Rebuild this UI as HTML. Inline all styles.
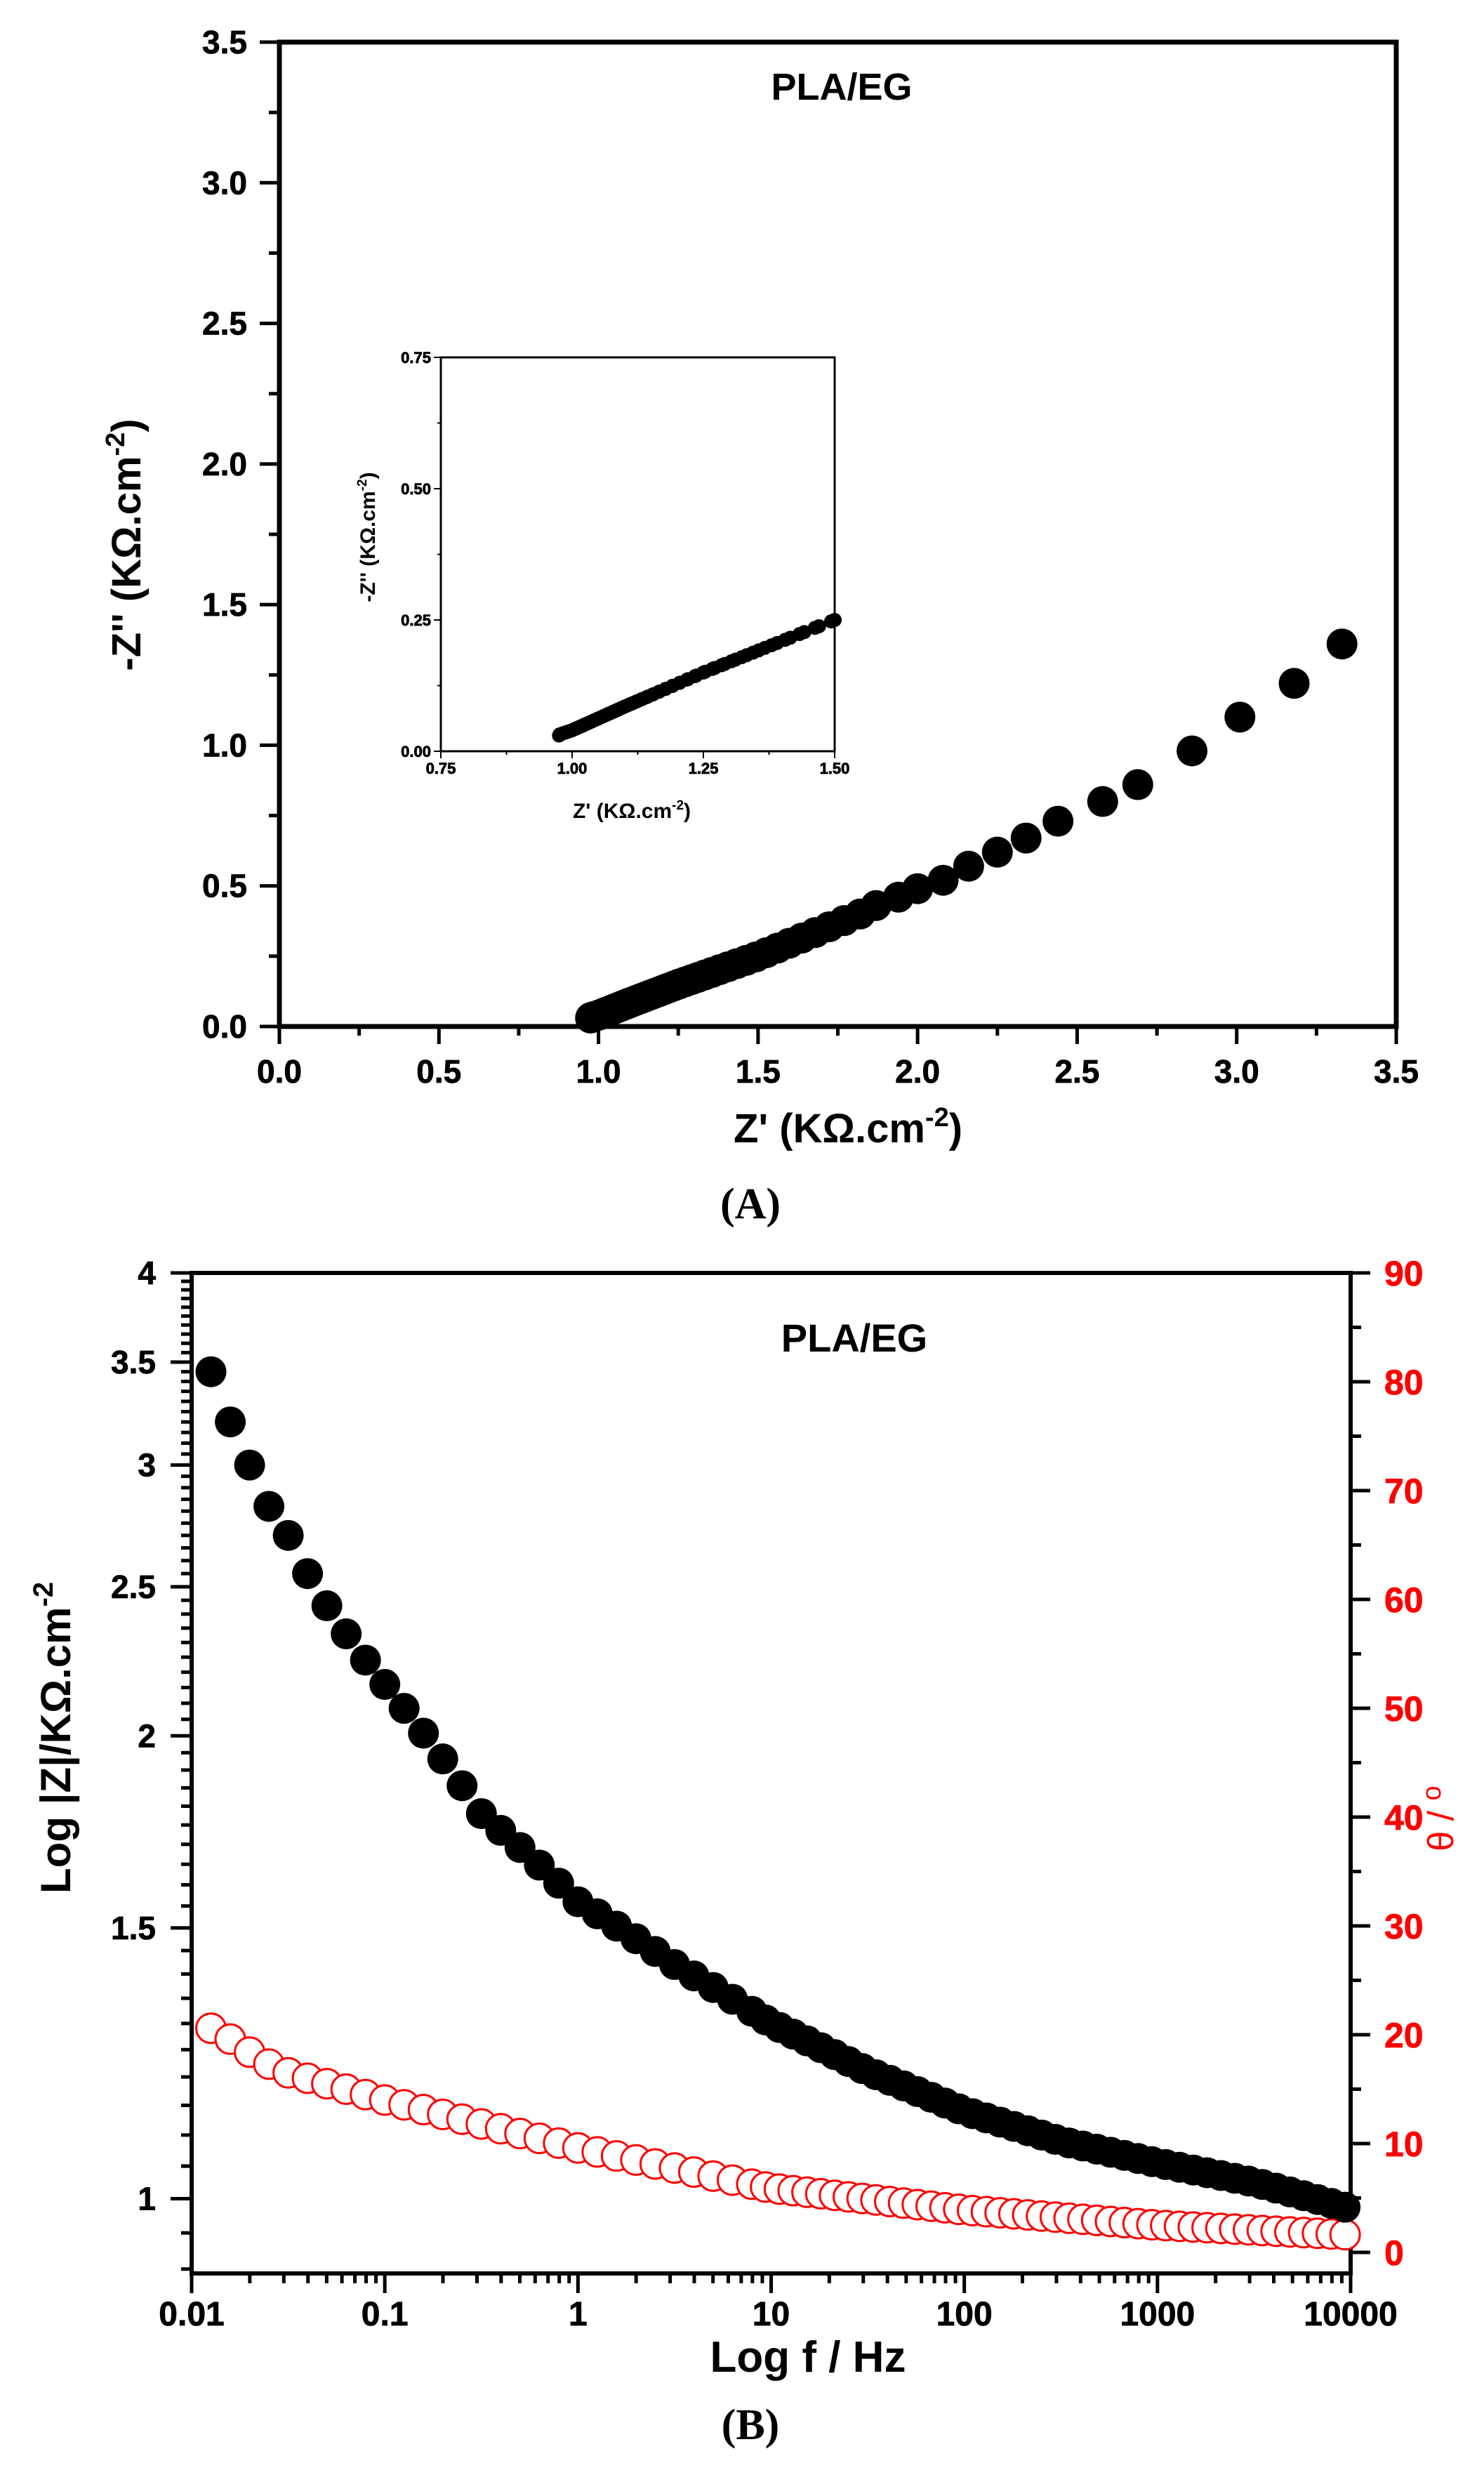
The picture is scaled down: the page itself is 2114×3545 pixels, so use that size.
<!DOCTYPE html>
<html><head><meta charset="utf-8">
<style>
html,body{margin:0;padding:0;background:#fff;}
svg{display:block;}
text{font-family:"Liberation Sans",Arial,sans-serif;font-weight:bold;}
</style></head>
<body>
<svg id="s" width="2114" height="3545" viewBox="0 0 2114 3545" xmlns="http://www.w3.org/2000/svg">
<rect width="2114" height="3545" fill="#fff"/>
<g id="g"></g>
<text x="1199" y="142" font-size="54" text-anchor="middle">PLA/EG</text>
<text x="1208" y="1627" font-size="58" text-anchor="middle">Z' (KΩ.cm<tspan dy="-23" font-size="38">-2</tspan><tspan dy="23">)</tspan></text>
<text transform="translate(200,776) rotate(-90)" font-size="58" text-anchor="middle">-Z'' (KΩ.cm<tspan dy="-23" font-size="38">-2</tspan><tspan dy="23">)</tspan></text>
<text x="1069" y="1735" font-size="62" text-anchor="middle" style="font-family:'Liberation Serif',serif">(A)</text>
<text x="900" y="1165" font-size="30" text-anchor="middle">Z' (KΩ.cm<tspan dy="-12" font-size="19">-2</tspan><tspan dy="12">)</tspan></text>
<text transform="translate(534,765) rotate(-90)" font-size="30" text-anchor="middle">-Z'' (KΩ.cm<tspan dy="-12" font-size="19">-2</tspan><tspan dy="12">)</tspan></text>
<text x="1217" y="1925" font-size="56" text-anchor="middle">PLA/EG</text>
<text x="1151" y="3378" font-size="62" text-anchor="middle">Log f / Hz</text>
<text transform="translate(100,2475) rotate(-90)" font-size="60" text-anchor="middle">Log |Z|/KΩ.cm<tspan dy="-25" font-size="40">-2</tspan></text>
<text transform="translate(2070,2590) rotate(-90)" font-size="52" text-anchor="middle" fill="#f00" style="font-weight:normal">θ / <tspan dy="-18" font-size="38">o</tspan></text>
<text x="1069" y="3474" font-size="62" text-anchor="middle" style="font-family:'Liberation Serif',serif">(B)</text>
</svg>
<script>
var g=document.getElementById('g');var NS='http://www.w3.org/2000/svg';
function el(t,a,txt){var e=document.createElementNS(NS,t);for(var k in a)e.setAttribute(k,a[k]);if(txt!==undefined)e.textContent=txt;g.appendChild(e);return e;}
function line(x1,y1,x2,y2,w,c){el('line',{x1:x1,y1:y1,x2:x2,y2:y2,stroke:c||'#000','stroke-width':w});}
function txt(x,y,s,sz,anc,fill){var e=el('text',{x:x,y:y,'font-size':sz,'text-anchor':anc||'middle',fill:fill||'#000'},s);e.setAttribute('stroke',fill||'#000');e.setAttribute('stroke-width','0.8');return e;}
function interp(pts,x){if(x<=pts[0][0])return pts[0][1];for(var i=1;i<pts.length;i++){if(x<=pts[i][0]){var a=pts[i-1],b=pts[i];return a[1]+(b[1]-a[1])*(x-a[0])/(b[0]-a[0]);}}return pts[pts.length-1][1];}

var AX0=398,AX1=1989,AY0=1462,AY1=60;
function ax(v){return AX0+(AX1-AX0)*v/3.5;}function ay(v){return AY0-(AY0-AY1)*v/3.5;}
for(var i=0;i<=14;i++){var v=i*0.25;var maj=i%2==0;
 line(ax(v),AY0,ax(v),AY0+(maj?25:13),5);
 line(AX0,ay(v),AX0-(maj?28:15),ay(v),5);
 if(maj){txt(ax(v),1542,v.toFixed(1),46);txt(352,ay(v)+16,v.toFixed(1),46,'end');}
}
el('rect',{x:AX0,y:AY1,width:AX1-AX0,height:AY0-AY1,fill:'none',stroke:'#000','stroke-width':7});
var big=[[3.33,1.36],[3.18,1.22],[3.01,1.10],[2.86,0.98],[2.69,0.86],[2.58,0.80],[2.44,0.73],[2.34,0.67],[2.25,0.62],[2.16,0.57],[2.08,0.52],[2.00,0.49],[1.94,0.46],[1.87,0.43]];
var curve=[[0.97,0.03],[1.0,0.04],[1.1,0.085],[1.25,0.15],[1.5,0.25],[1.82,0.40],[1.87,0.43]];
var pts=big.slice();var z=1.82;
while(z>0.975){pts.push([z,interp(curve,z)]);z-=Math.max(0.006,0.058*(z-0.96));}
pts.push([0.975,0.03]);
pts.forEach(function(p){el('circle',{cx:ax(p[0]),cy:ay(p[1]),r:22,fill:'#000'});});
var IX0=628,IX1=1189,IY0=1070,IY1=509;
el('rect',{x:IX0,y:IY1,width:IX1-IX0,height:IY0-IY1,fill:'#fff',stroke:'none'});
function ix(v){return IX0+(IX1-IX0)*(v-0.75)/0.75;}function iy(v){return IY0-(IY0-IY1)*v/0.75;}
for(var i=0;i<=6;i++){var v=i*0.125;var maj=i%2==0;
 line(IX0,iy(v),IX0-(maj?10:5),iy(v),2);
 line(ix(0.75+v),IY0,ix(0.75+v),IY0+(maj?10:5),2);
 if(maj){txt(IX0-14,iy(v)+8,v.toFixed(2),22,'end');txt(ix(0.75+v),1102,(0.75+v).toFixed(2),22);}
}
var sv=[];pts.forEach(function(p){if(p[0]<=1.51)sv.push(p);});
var z2=1.5;while(z2>0.98){sv.push([z2,interp(curve,z2)]);z2-=Math.max(0.004,0.055*(z2-0.96));}
sv.forEach(function(p){el('circle',{cx:ix(p[0]),cy:iy(p[1]),r:10,fill:'#000'});});
el('rect',{x:IX0,y:IY1,width:IX1-IX0,height:IY0-IY1,fill:'none',stroke:'#000','stroke-width':3});

var BX0=273,BX1=1924,BY0=3238,BY1=1813;
function bx(lf){return BX0+(BX1-BX0)*(lf+2)/6;}
function byZ(z){return 1813+(Math.log10(4)-Math.log10(z))*2190;}
function byT(t){return 3208-t*15.5;}
for(var i=0;i<=60;i++){var v=1+i*0.05;if(v>4.0001)break;var maj=(i%10==0);
 line(BX0,byZ(v),BX0-(maj?30:15),byZ(v),5);
 if(maj){var s=(Math.abs(v-Math.round(v))<1e-6)?String(Math.round(v)):v.toFixed(1);txt(222,byZ(v)+16,s,46,'end');}
}
for(var i=0;i<=3;i++){var v=0.9+0.05*i;if(byZ(v)<=BY0)line(BX0,byZ(v),BX0-15,byZ(v),5);}
for(var t=0;t<=90;t+=5){var maj=t%10==0;line(BX1,byT(t),BX1+(maj?28:15),byT(t),5);
 if(maj)txt(1972,byT(t)+18,String(t),50,'start','#f00');}
var xl=['0.01','0.1','1','10','100','1000','10000'];
for(var d=-2;d<=4;d++){line(bx(d),BY0,bx(d),BY0+28,5);txt(bx(d),3312,xl[d+2],48);
 if(d<4)for(var m=2;m<=9;m++){var xx=bx(d+Math.log10(m));line(xx,BY0,xx,BY0+14,5);}}
el('rect',{x:BX0,y:BY1,width:BX1-BX0,height:BY0-BY1,fill:'none',stroke:'#000','stroke-width':6});
var zA=[[-1.9,3.45],[-1.8,3.2],[-1.7,3.0],[-1.6,2.82],[-1.5,2.7],[-1.4,2.55],[-1.3,2.43],[-1.2,2.33],[-1.1,2.24],[-1,2.16],[-0.5,1.78],[0,1.56],[0.5,1.42],[1,1.30],[1.5,1.21],[2,1.14],[2.5,1.09],[3,1.055],[3.5,1.025],[4,0.985]];
var tA=[[-1.9,20.6],[-1.8,19.6],[-1.7,18.4],[-1.6,17.3],[-1.5,16.5],[-1,14.0],[0,9.6],[1,5.9],[2,3.9],[3,2.5],[4,1.6]];
var lfs=[];for(var k=0;k<=27;k++)lfs.push(-1.9+k*0.1);
for(var v=0.9;v<=4.0001;v+=1/14)lfs.push(v);
lfs.forEach(function(lf){el('circle',{cx:bx(lf),cy:byT(interp(tA,lf)),r:21,fill:'#fff',stroke:'#f00','stroke-width':3});});
lfs.forEach(function(lf){el('circle',{cx:bx(lf),cy:byZ(interp(zA,lf)),r:22,fill:'#000'});});
</script>
</body></html>
